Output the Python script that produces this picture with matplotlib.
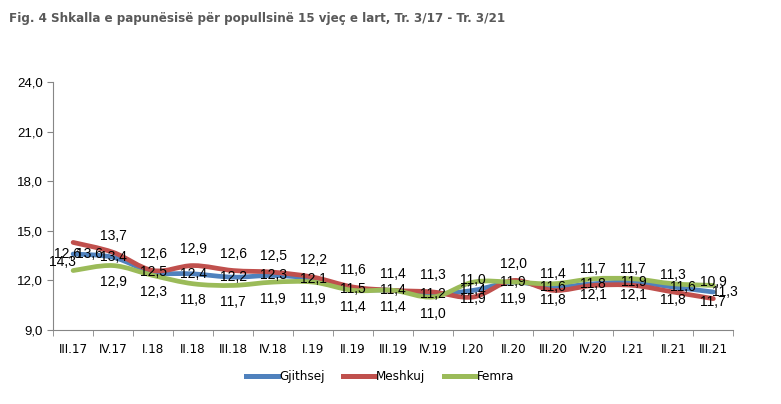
import matplotlib.pyplot as plt
from matplotlib.path import Path
from matplotlib.patches import PathPatch
from matplotlib.lines import Line2D
from matplotlib.ticker import FuncFormatter

categories = ["III.17", "IV.17", "I.18", "II.18", "III.18", "IV.18", "I.19", "II.19",
              "III.19", "IV.19", "I.20", "II.20", "III.20", "IV.20", "I.21", "II.21", "III.21"]
gjithsej = [13.6, 13.4, 12.5, 12.4, 12.2, 12.3, 12.1, 11.5, 11.4, 11.2, 11.4, 11.9, 11.6, 11.8, 11.9, 11.6, 11.3]
meshkuj = [14.3, 13.7, 12.6, 12.9, 12.6, 12.5, 12.2, 11.6, 11.4, 11.3, 11.0, 12.0, 11.4, 11.7, 11.7, 11.3, 10.9]
femra = [12.6, 12.9, 12.3, 11.8, 11.7, 11.9, 11.9, 11.4, 11.4, 11.0, 11.9, 11.9, 11.8, 12.1, 12.1, 11.8, 11.7]

series = [("Gjithsej", gjithsej, "#4F81BD"),
          ("Meshkuj", meshkuj, "#C0504D"),
          ("Femra", femra, "#9BBB59")]

# label offsets in points (dx, dy) per series, plus a few hand-moved labels
base_off = {"Gjithsej": (0, 0), "Meshkuj": (0, 12), "Femra": (0, -12)}
special_off = {("Meshkuj", 0): (-8, -14), ("Femra", 0): (-4, 12), ("Gjithsej", 0): (12, 0),
               ("Gjithsej", 15): (7, 0), ("Gjithsej", 16): (8, 0)}

plt.rcParams['font.family'] = ['Liberation Sans', 'DejaVu Sans']
narrow = ['DejaVu Sans']


def smooth_path(xs, ys):
    n = len(xs)
    pts = list(zip(xs, ys))
    verts = [pts[0]]
    codes = [Path.MOVETO]
    for i in range(n - 1):
        p0 = pts[max(i - 1, 0)]
        p1 = pts[i]
        p2 = pts[i + 1]
        p3 = pts[min(i + 2, n - 1)]
        c1 = (p1[0] + (p2[0] - p0[0]) / 6, p1[1] + (p2[1] - p0[1]) / 6)
        c2 = (p2[0] - (p3[0] - p1[0]) / 6, p2[1] - (p3[1] - p1[1]) / 6)
        verts += [c1, c2, p2]
        codes += [Path.CURVE4] * 3
    return Path(verts, codes)


fig = plt.figure(figsize=(7.81, 4.04), dpi=100)
ax = fig.add_axes([0.068, 0.183, 0.871, 0.614])

x = list(range(len(categories)))
for name, vals, col in series:
    ax.add_patch(PathPatch(smooth_path(x, vals), facecolor='none', edgecolor=col,
                           lw=3.4, capstyle='round', joinstyle='round'))

for name, vals, col in series:
    for i, v in enumerate(vals):
        dx, dy = special_off.get((name, i), base_off[name])
        ax.annotate(f"{v:.1f}".replace(".", ","), (i, v), xytext=(dx, dy),
                    textcoords='offset points', ha='center', va='center',
                    fontsize=10, color='black')

ax.set_xlim(-0.5, len(categories) - 0.5)
ax.set_ylim(9, 24)
ax.set_yticks([9, 12, 15, 18, 21, 24])
ax.yaxis.set_major_formatter(FuncFormatter(lambda v, p: f"{v:.1f}".replace(".", ",")))
ax.set_xticks(x)
ax.set_xticklabels(categories, family=narrow, stretch='condensed')
ax.set_xticks([i - 0.5 for i in range(len(categories) + 1)], minor=True)
ax.tick_params(axis='x', which='major', length=0, pad=9, labelsize=9.5)
ax.tick_params(axis='x', which='minor', length=4, color='#868686')
ax.tick_params(axis='y', length=4, color='#868686', labelsize=9.5)

for s in ['top', 'right']:
    ax.spines[s].set_visible(False)
for s in ['left', 'bottom']:
    ax.spines[s].set_color('#868686')

fig.text(0.011, 0.953, "Fig. 4 Shkalla e papunësisë për popullsinë 15 vjeç e lart, Tr. 3/17 - Tr. 3/21",
         fontsize=9.5, fontweight='bold', color='#595959', family=narrow, stretch='condensed',
         va='center')

handles = [Line2D([0], [0], color=c, lw=3.6) for _, _, c in series]
fig.legend(handles, [n for n, _, _ in series], loc='center', bbox_to_anchor=(0.487, 0.067),
           ncol=3, frameon=False, handlelength=2.4, columnspacing=1.4, handletextpad=0.1,
           prop={'family': narrow, 'stretch': 'condensed', 'size': 9.5})

fig.savefig("out.png", dpi=100)
